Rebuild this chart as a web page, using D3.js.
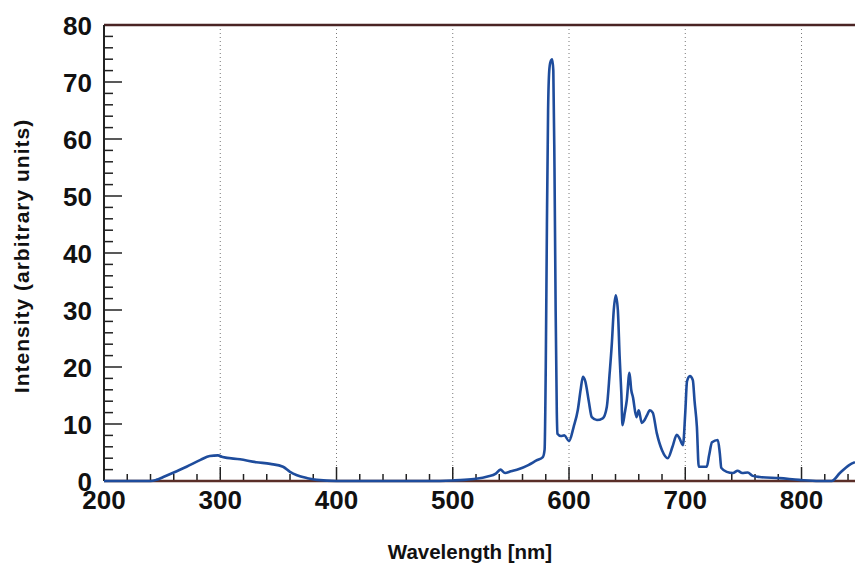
<!DOCTYPE html>
<html>
    <head>
        <meta charset="utf-8">
        <title></title>
        <script src="https://d3js.org/d3.v7.min.js"></script>
        <style>
            body { margin: 0; background: #fff; }
            svg { display: block; }
            .tick-label { font-family: "Liberation Sans", Arial, sans-serif; font-weight: bold; font-size: 26px; fill: #111; }
            .axis-title { font-family: "Liberation Sans", Arial, sans-serif; font-weight: bold; font-size: 20.5px; fill: #111; }
        </style>
    </head>
    <body>
        <svg width="855" height="563"></svg>
        <script>
            // spectrum
            var wavelength = [200, 240, 245, 251, 259, 271, 283, 291, 298, 302, 317, 331, 343, 354, 360, 366, 375, 383, 400,
                480, 500, 510, 520, 530, 537, 541, 545, 550, 557, 565, 572, 577.5, 579, 580, 581, 582, 583, 584, 585.5, 586.5,
                587.5, 588.5, 589.5, 590, 593, 596, 600, 604, 607.6, 610, 612, 614, 617, 619.6, 624, 629, 632.5, 635, 636.8,
                638.5, 640.2, 642, 643.5, 645, 646, 648, 649.7, 652, 653.5, 655, 658, 660, 662.6, 665, 667, 669.5, 672, 675.5,
                680, 685, 689, 692.7, 695, 698, 700, 701.5, 704, 706.5, 708, 710, 711.6, 718.5, 720.5, 723, 728, 729.7, 731,
                735.7, 741, 745, 749, 753.7, 758, 764, 781, 798, 815, 826, 833, 841, 846];
            var intensity = [0, 0, 0.2, 0.7, 1.4, 2.5, 3.7, 4.4, 4.5, 4.2, 3.8, 3.3, 3.0, 2.5, 1.6, 1.0, 0.5, 0.2, 0,
                0, 0.1, 0.2, 0.4, 0.8, 1.3, 2.0, 1.4, 1.7, 2.1, 2.8, 3.6, 4.2, 5.5, 20, 45, 65, 72, 73.5, 74, 72,
                55, 30, 12, 8.3, 7.9, 8, 7.0, 9.5, 12.5, 16, 18.3, 17.5, 14, 11.2, 10.7, 11, 13, 19, 24,
                30, 32.6, 30, 22, 15.4, 9.8, 12, 14.2, 19, 16, 14.7, 11.2, 12.4, 10.2, 10.7, 11.5, 12.4, 12, 8.4,
                5.4, 4, 6, 8.1, 7.5, 6.3, 12, 17.5, 18.4, 17.7, 14, 9.5, 2.5, 2.5, 4.5, 6.8, 7.2, 4.9, 2.3,
                1.6, 1.4, 1.8, 1.4, 1.5, 0.9, 0.7, 0.5, 0.2, 0, 0, 1.4, 2.8, 3.3];
            var xTicks = [200, 300, 400, 500, 600, 700, 800];
            var yTicks = [0, 10, 20, 30, 40, 50, 60, 70, 80];

            var svg = d3.select("svg");
            var padLeft = 104, padRight = 855, padTop = 25, padBottom = 481;

            var x = d3.scaleLinear().domain([200, 846]).range([padLeft, padRight]);
            var y = d3.scaleLinear().domain([0, 80]).range([padBottom, padTop]);

            // dotted vertical grid
            svg.append("g").selectAll("line")
                .data(xTicks.slice(1))
                .enter().append("line")
                .attr("x1", function(d){ return x(d); })
                .attr("x2", function(d){ return x(d); })
                .attr("y1", padTop).attr("y2", padBottom)
                .attr("stroke", "#777")
                .attr("stroke-width", 1)
                .attr("stroke-dasharray", "1,3");

            // inward ticks
            var xMinor = d3.range(200, 847, 20);
            svg.append("g").selectAll("line")
                .data(xMinor)
                .enter().append("line")
                .attr("x1", function(d){ return x(d); })
                .attr("x2", function(d){ return x(d); })
                .attr("y1", padBottom)
                .attr("y2", function(d){ return padBottom - (d % 100 == 0 ? 14 : 7); })
                .attr("stroke", "#222").attr("stroke-width", 1.5);

            var yMinor = d3.range(0, 81, 2);
            svg.append("g").selectAll("line")
                .data(yMinor)
                .enter().append("line")
                .attr("x1", padLeft)
                .attr("x2", function(d){ return padLeft + (d % 10 == 0 ? 18 : 9); })
                .attr("y1", function(d){ return y(d); })
                .attr("y2", function(d){ return y(d); })
                .attr("stroke", "#222").attr("stroke-width", 1.5);

            // frame
            svg.append("line").attr("x1", padLeft).attr("x2", padRight).attr("y1", padTop).attr("y2", padTop)
                .attr("stroke", "#4a2424").attr("stroke-width", 2.5);
            svg.append("line").attr("x1", padLeft).attr("x2", padRight).attr("y1", padBottom).attr("y2", padBottom)
                .attr("stroke", "#5a2e28").attr("stroke-width", 2.5);
            svg.append("line").attr("x1", padLeft).attr("x2", padLeft).attr("y1", padTop).attr("y2", padBottom)
                .attr("stroke", "#222").attr("stroke-width", 2);

            // spectrum line
            var pts = wavelength.map(function(w, i){ return [w, intensity[i]]; });
            var line = d3.line()
                .x(function(d){ return x(d[0]); })
                .y(function(d){ return y(d[1]); })
                .curve(d3.curveMonotoneX);
            svg.append("path")
                .attr("d", line(pts))
                .attr("fill", "none")
                .attr("stroke", "#1e4c9c")
                .attr("stroke-width", 2.6)
                .attr("stroke-linejoin", "round");

            // tick labels
            svg.append("g").selectAll("text")
                .data(xTicks)
                .enter().append("text")
                .attr("class", "tick-label")
                .attr("x", function(d){ return x(d); })
                .attr("y", 509)
                .attr("text-anchor", "middle")
                .text(function(d){ return d; });

            svg.append("g").selectAll("text")
                .data(yTicks)
                .enter().append("text")
                .attr("class", "tick-label")
                .attr("x", 92)
                .attr("y", function(d){ return y(d) + 9.5; })
                .attr("text-anchor", "end")
                .text(function(d){ return d; });

            // axis titles
            svg.append("text").attr("class", "axis-title")
                .attr("x", 470).attr("y", 559)
                .attr("text-anchor", "middle")
                .text("Wavelength [nm]");
            svg.append("text").attr("class", "axis-title")
                .attr("transform", "translate(29,256) rotate(-90)")
                .attr("text-anchor", "middle")
                .style("font-size", "21px")
                .style("letter-spacing", "1px")
                .text("Intensity (arbitrary units)");
        </script>
    </body>
</html>
